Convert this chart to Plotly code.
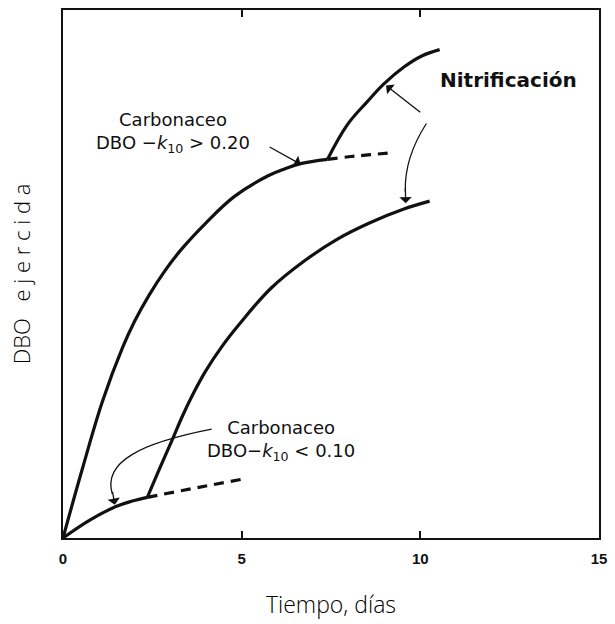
import plotly.graph_objects as go

# BOD curves (days, relative BOD exerted, 0-100 scale)
k20_t = [0, 0.554, 1.11, 1.663, 2.0, 2.41, 2.85, 3.33, 3.99, 4.80, 5.74, 6.2, 6.65, 7.40]
k20_bod = [0, 13.4, 26.0, 36.0, 41.0, 46.0, 50.6, 54.8, 59.6, 64.7, 68.6, 69.9, 70.9, 71.7]

k20_dash_t = [7.40, 8.0, 8.6, 9.26]
k20_dash_bod = [71.7, 72.2, 72.6, 73.0]

nit20_t = [7.40, 7.96, 8.51, 8.98, 9.54, 10.04, 10.54]
nit20_bod = [71.7, 78.3, 82.6, 86.0, 89.2, 91.3, 92.5]

k10_t = [0, 0.75, 1.50, 1.94, 2.36]
k10_bod = [0, 3.4, 6.0, 7.0, 7.7]

k10_dash_t = [2.36, 3.80, 4.99]
k10_dash_bod = [7.7, 9.6, 11.1]

nit10_t = [2.36, 2.7, 3.05, 3.35, 3.65, 3.99, 4.45, 4.91, 5.82, 6.76, 7.68, 8.59, 9.54, 10.26]
nit10_bod = [7.7, 13.1, 18.5, 23.2, 27.4, 31.6, 36.3, 40.3, 47.3, 52.5, 56.6, 59.7, 62.3, 63.8]

x_ticks = [0, 5, 10, 15]

BLACK = "#111111"
TXT = "DejaVu Sans"

fig = go.Figure()


def curve(t, y, dash="solid", width=3.2):
    fig.add_trace(go.Scatter(
        x=t, y=y, mode="lines",
        line=dict(color=BLACK, width=width, dash=dash, shape="spline", smoothing=1.1),
        hoverinfo="skip", showlegend=False,
    ))


curve(k20_t, k20_bod)
curve(k20_dash_t, k20_dash_bod, dash="10px,7px")
curve(nit20_t, nit20_bod)
curve(k10_t, k10_bod)
curve(k10_dash_t, k10_dash_bod, dash="10px,7px")
curve(nit10_t, nit10_bod)

# curved leader lines
fig.add_shape(type="path", xref="x", yref="y",
              path="M 10.17,78.5 Q 9.55,72 9.58,65.6",
              line=dict(color=BLACK, width=1.3))
fig.add_shape(type="path", xref="x", yref="y",
              path="M 4.16,20.6 C 2.2,18.0 1.1,14.5 1.38,8.3",
              line=dict(color=BLACK, width=1.3))


def arrow(x, y, ax, ay):
    fig.add_annotation(x=x, y=y, ax=ax, ay=ay, xref="x", yref="y",
                       axref="x", ayref="y", text="", showarrow=True,
                       arrowhead=1, arrowsize=1.6, arrowwidth=1.3,
                       arrowcolor=BLACK)


arrow(6.65, 70.8, 5.74, 74.2)
arrow(9.04, 85.7, 10.04, 80.4)
arrow(9.59, 63.4, 9.58, 66.5)
arrow(1.45, 6.3, 1.38, 9.0)


def label(x, y, text, size=18, bold=False):
    fig.add_annotation(x=x, y=y, xref="x", yref="y", text=text,
                       showarrow=False, align="center",
                       font=dict(family=TXT, size=size, color=BLACK,
                                 weight="bold" if bold else "normal"))


label(3.08, 76.8, "Carbonaceo<br>DBO −<i>k</i><sub>10</sub> &gt; 0.20")
label(12.48, 86.8, "Nitrificación", size=20, bold=True)
label(6.10, 18.4, "Carbonaceo<br>DBO−<i>k</i><sub>10</sub> &lt; 0.10")

fig.update_layout(
    width=615, height=624,
    margin=dict(l=63, r=11, t=8, b=86),
    paper_bgcolor="white", plot_bgcolor="white",
    showlegend=False,
    xaxis=dict(
        range=[0, 15], tickvals=x_ticks, ticktext=[str(v) for v in x_ticks],
        ticks="inside", ticklen=7, tickwidth=1.5, tickcolor=BLACK,
        showline=True, linecolor=BLACK, linewidth=1.8, mirror="ticks",
        showgrid=False, zeroline=False, ticklabelstandoff=6,
        tickfont=dict(family="Liberation Sans", size=15, color=BLACK, weight="bold"),
        title=dict(text="Tiempo, días", standoff=31,
                   font=dict(family="Open Sans", size=23, color="#000000", weight=300)),
    ),
    yaxis=dict(
        range=[0, 100], showticklabels=False, ticks="",
        showline=True, linecolor=BLACK, linewidth=1.8, mirror=True,
        showgrid=False, zeroline=False,
        title=dict(text="DBO\u2002 e j e r c i d a", standoff=24,
                   font=dict(family="Open Sans", size=22, color="#000000", weight=300)),
    ),
)

fig.write_html("out.html")
